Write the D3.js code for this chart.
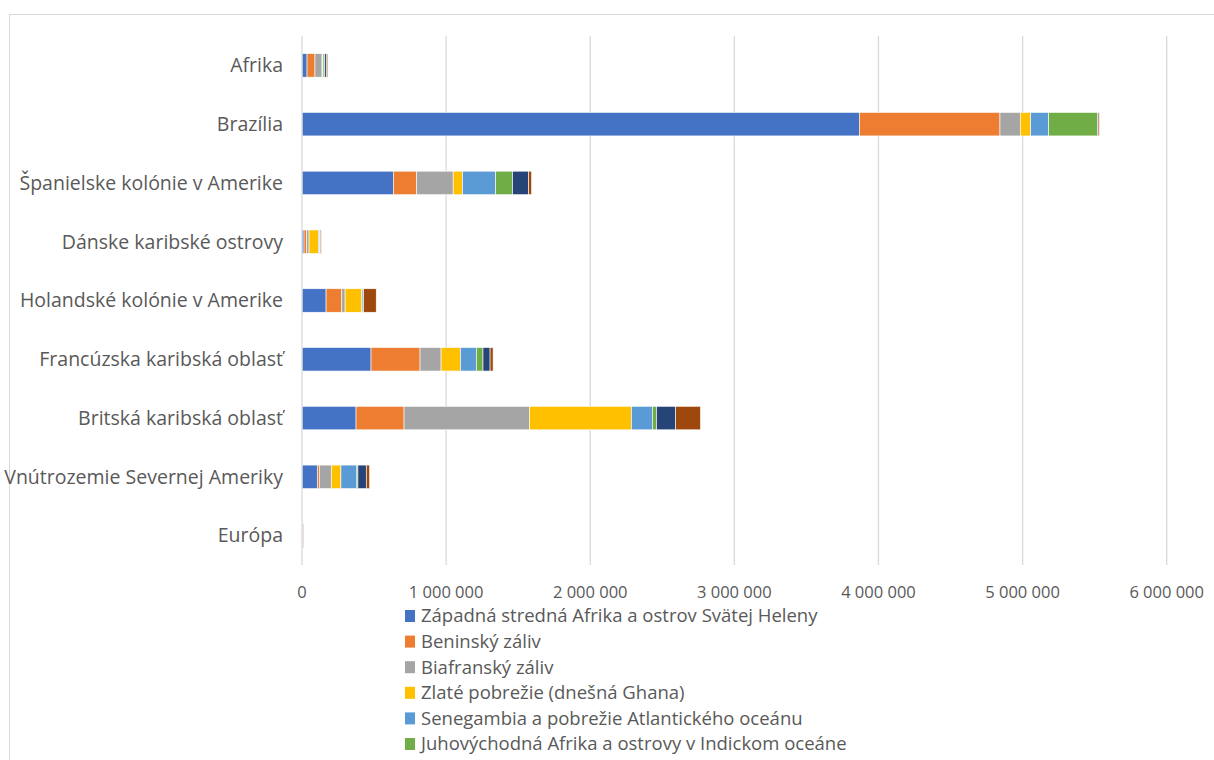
<!DOCTYPE html>
<html><head><meta charset="utf-8">
<script src="https://cdn.jsdelivr.net/npm/d3@7"></script>
<style>
html,body{margin:0;padding:0;background:#fff;overflow:hidden;}
svg{display:block;}
text{font-family:"Open Sans",sans-serif;fill:#595959;}
</style></head>
<body>
<svg id="chart" width="1214" height="760"></svg>
<script>
const categories = ["Afrika","Brazília","Španielske kolónie v Amerike","Dánske karibské ostrovy","Holandské kolónie v Amerike","Francúzska karibská oblasť","Britská karibská oblasť","Vnútrozemie Severnej Ameriky","Európa"];
const seriesNames = ["Západná stredná Afrika a ostrov Svätej Heleny","Beninský záliv","Biafranský záliv","Zlaté pobrežie (dnešná Ghana)","Senegambia a pobrežie Atlantického oceánu","Juhovýchodná Afrika a ostrovy v Indickom oceáne","Sierra Leone","Náveterné pobrežie"];
const seriesColors = ["#4472C4","#ED7D31","#A5A5A5","#FFC000","#5B9BD5","#70AD47","#264478","#9E480E"];
// values per series, in category order
const westCentral = [35000,3867000,634000,14000,167000,479000,375000,106000,2000];
const benin       = [55000,976000,160000,17000,109000,340000,333000,14000,1000];
const biafra      = [49000,141000,255000,18000,23000,146000,870000,83000,1000];
const goldCoast   = [5000,72000,65000,65000,116000,134000,708000,67000,1000];
const senegambia  = [2000,125000,229000,9000,9000,111000,146000,111000,2000];
const southeast   = [12000,338000,118000,2000,1000,46000,28000,7000,0];
const sierraLeone = [14000,5000,111000,2000,2000,49000,132000,58000,1000];
const windward    = [7000,9000,21000,7000,88000,21000,173000,23000,3000];
const seriesValues = [westCentral,benin,biafra,goldCoast,senegambia,southeast,sierraLeone,windward];
const xTicks = [0,1000000,2000000,3000000,4000000,5000000,6000000];

const svg = d3.select("#chart");
// outer frame
svg.append("rect").attr("x",9.5).attr("y",14.5).attr("width",1230).attr("height",800)
  .attr("fill","none").attr("stroke","#d9d9d9").attr("stroke-width",1);

const x = d3.scaleLinear().domain([0,6000000]).range([302,1166.7]);
const y = d3.scaleBand().domain(categories).range([36,565]).paddingInner(0.6).paddingOuter(0.3);

// gridlines
svg.append("g").selectAll("line").data(xTicks.slice(1)).join("line")
  .attr("x1",d=>x(d)).attr("x2",d=>x(d)).attr("y1",36).attr("y2",565)
  .attr("stroke","#d9d9d9").attr("stroke-width",1.3);

// stacked data
const rows = categories.map((c,i)=>{const o={cat:c}; seriesNames.forEach((s,j)=>o[s]=seriesValues[j][i]); return o;});
const stack = d3.stack().keys(seriesNames)(rows);

svg.append("g").selectAll("g").data(stack).join("g")
  .attr("fill",(d,i)=>seriesColors[i])
  .selectAll("rect").data(d=>d).join("rect")
  .attr("x",d=>x(d[0])).attr("width",d=>Math.max(0,x(d[1])-x(d[0])))
  .attr("y",d=>y(d.data.cat)).attr("height",y.bandwidth())
  .attr("stroke","#fff").attr("stroke-width",0.6);

// axis line (vertical category axis)
svg.append("line").attr("x1",x(0)).attr("x2",x(0)).attr("y1",36).attr("y2",565)
  .attr("stroke","#d9d9d9").attr("stroke-width",1.3);

// category labels
svg.append("g").selectAll("text").data(categories).join("text")
  .attr("x",283).attr("y",d=>y(d)+y.bandwidth()/2).attr("dy","0.35em")
  .attr("text-anchor","end").attr("font-size",19.5).text(d=>d);

// x tick labels
const fmt = v => d3.format(",")(v).replace(/,/g,"\u00a0");
svg.append("g").selectAll("text").data(xTicks).join("text")
  .attr("x",d=>x(d)).attr("y",592).attr("dy","0.35em")
  .attr("text-anchor","middle").attr("font-size",16.5).text(fmt);

// legend (entries past the bottom edge of the picture are clipped, as in the reference)
const legendTop = 616, legendStep = 25.6;
const visibleLegend = seriesNames.filter((d,i)=>legendTop+i*legendStep < 750);
const lg = svg.append("g").selectAll("g").data(visibleLegend).join("g")
  .attr("transform",(d,i)=>`translate(405,${legendTop+i*legendStep})`);
lg.append("rect").attr("x",0).attr("y",-6).attr("width",10).attr("height",12).attr("fill",(d,i)=>seriesColors[i]);
lg.append("text").attr("x",16).attr("y",0).attr("dy","0.35em").attr("font-size",18.5).text(d=>d);
</script>
</body></html>
